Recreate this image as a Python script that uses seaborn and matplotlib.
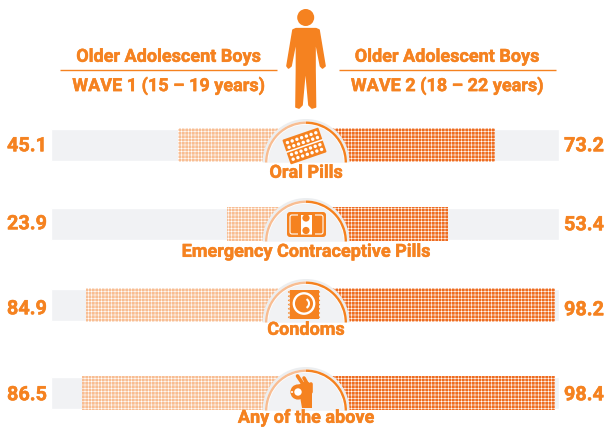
import numpy as np
import matplotlib
matplotlib.use("Agg")
import matplotlib.pyplot as plt
from matplotlib.patches import Circle, Wedge, Polygon, FancyBboxPatch, Rectangle, Arc
import matplotlib.patheffects as pe
import seaborn as sns

methods = ["Oral Pills", "Emergency Contraceptive Pills", "Condoms", "Any of the above"]
wave1 = [45.1, 23.9, 84.9, 86.5]
wave2 = [73.2, 53.4, 98.2, 98.4]
ORANGE = "#f58220"; LIGHT = "#f8bd92"; DARK = "#ee6c20"; GREY = "#f1f2f4"

sns.set_theme(style="white")
plt.rcParams["font.family"] = ["Roboto", "DejaVu Sans"]
plt.rcParams["hatch.linewidth"] = 0.4
W, H = 604, 430
fig = plt.figure(figsize=(W / 100, H / 100), dpi=100, facecolor="white")

rows = [(128, 162), (207, 241), (288, 322), (376, 410)]
label_y = [172, 251, 329, 417]
left_val_y = [145, 223, 308, 394]
right_val_y = [145, 224, 309, 394]
LEFT = (50.6, 282.6)
RIGHT = (320.0, 559.0)


def side_axes(span, top, bot):
    return fig.add_axes([span[0] / W, 1 - bot / H, (span[1] - span[0]) / W, (bot - top) / H])


def draw_bar(ax, name, val, color, invert):
    sns.barplot(x=[100], y=[name], color=GREY, width=0.94, saturation=1, ax=ax, zorder=1)
    sns.barplot(x=[val], y=[name], color=color, width=1.0, saturation=1, ax=ax, zorder=2)
    bar = ax.patches[-1]
    bar.set_hatch("+++++")
    bar.set_edgecolor("white")
    bar.set_linewidth(0)
    ax.set_xlim(100, 0) if invert else ax.set_xlim(0, 100)
    ax.axis("off")
    ax.patch.set_alpha(0)


for i, name in enumerate(methods):
    top, bot = rows[i]
    draw_bar(side_axes(LEFT, top, bot), name, wave1[i], LIGHT, True)
    draw_bar(side_axes(RIGHT, top, bot), name, wave2[i], DARK, False)

ov = fig.add_axes([0, 0, 1, 1], zorder=5)
ov.set_xlim(0, W); ov.set_ylim(H, 0); ov.axis("off"); ov.patch.set_alpha(0)


def T(x, y, s, size):
    ov.text(x, y + 0.8, s, fontsize=size, color=ORANGE, fontweight="bold", ha="center", va="center",
            path_effects=[pe.withStroke(linewidth=0.35, foreground=ORANGE)])


for cx, sub in [(168.5, "WAVE 1 (15 – 19 years)"), (447, "WAVE 2 (18 – 22 years)")]:
    T(cx, 56, "Older Adolescent Boys", 13)
    T(cx, 85, sub, 13)
    ov.plot([cx - 108.5, cx + 108.5], [69.5, 69.5], color=ORANGE, lw=1.0, solid_capstyle="butt")

# person
ov.add_patch(Circle((305.7, 17.5), 8.5, color=ORANGE, lw=0))
body = [(293, 30), (296, 28.7), (316, 28.7), (319, 30), (325, 66), (322.5, 68), (320.5, 66), (315, 38),
        (315, 70), (315.5, 107), (312, 108), (309, 105), (306, 72), (305, 72), (302, 105), (299, 108),
        (296, 107), (296.5, 70), (296.5, 38), (291, 66), (288.5, 68), (287, 66)]
ov.add_patch(Polygon(body, closed=True, facecolor=ORANGE, edgecolor=ORANGE, lw=1.2, joinstyle="round"))

for i in range(4):
    T(27, left_val_y[i], f"{wave1[i]:.1f}", 14.3)
    T(584, right_val_y[i], f"{wave2[i]:.1f}", 14.3)


def disc(cy):
    cx = 306; r = 41
    ov.add_patch(Wedge((cx, cy), r + 2.5, 180, 360, color="#eceef0", lw=0))
    ov.add_patch(Wedge((cx, cy), r, 180, 360, color="white", lw=0))
    ov.add_patch(Wedge((cx, cy), r, 270, 360, width=2.4, color=ORANGE, lw=0))
    ov.add_patch(Wedge((cx, cy), r, 180, 270, width=2.4, color=LIGHT, lw=0))
    ov.add_patch(Wedge((cx, cy), r - 3.2, 180, 360, color=GREY, lw=0))


def pills():
    c = np.array([304.5, 146.0]); a = np.deg2rad(-19)
    R = np.array([[np.cos(a), -np.sin(a)], [np.sin(a), np.cos(a)]])
    f = lambda u, v: tuple(c + R @ np.array([u, v]))
    ov.add_patch(Polygon([f(-18, -12), f(18, -12), f(18, 12), f(-18, 12)], closed=True,
                         facecolor=ORANGE, edgecolor=ORANGE, lw=1.5, joinstyle="round"))
    p, q = f(-19, 0), f(19, 0)
    ov.plot([p[0], q[0]], [p[1], q[1]], color="white", lw=1.1)
    for v in (-8.8, -3.8, 3.8, 8.8):
        for u in np.arange(-15, 15.1, 5):
            ov.add_patch(Circle(f(u, v), 1.7, color="white", lw=0))


def ec():
    ov.add_patch(FancyBboxPatch((288.5, 213.5), 36, 22, boxstyle="round,pad=1.5,rounding_size=3",
                                facecolor=ORANGE, edgecolor="none"))
    ov.add_patch(FancyBboxPatch((290, 215), 33, 19, boxstyle="round,pad=0,rounding_size=2",
                                facecolor="none", edgecolor="white", lw=0.8))
    ov.add_patch(Rectangle((297.5, 212), 3, 25, color=ORANGE, lw=0))
    ov.add_patch(Rectangle((311.5, 212), 3, 25, color=ORANGE, lw=0))
    ov.add_patch(Rectangle((300.5, 215), 11, 19, color="white", lw=0))
    ov.add_patch(Rectangle((300.5, 212), 11, 3, color=ORANGE, lw=0))
    ov.add_patch(Circle((306, 218), 3.6, color=ORANGE, lw=0))
    ov.add_patch(Circle((306, 230.5), 3.6, color=ORANGE, lw=0))


def condom():
    ov.add_patch(Rectangle((289.5, 290), 29, 28.5, color=ORANGE, lw=0))
    for y in np.arange(292, 318, 4.2):
        ov.add_patch(Polygon([(289.6, y - 1.6), (287.8, y), (289.6, y + 1.6)], color=ORANGE, lw=0))
        ov.add_patch(Polygon([(318.4, y - 1.6), (320.2, y), (318.4, y + 1.6)], color=ORANGE, lw=0))
    ov.add_patch(Circle((304, 303.5), 10.2, facecolor="none", edgecolor="white", lw=1.7))
    ov.add_patch(Arc((304, 303.5), 10, 10, theta1=-60, theta2=60, color="white", lw=1.5))


def hand():
    ov.add_patch(Polygon([(302, 408), (312, 408), (312, 384), (306, 381), (298, 385)], closed=True, color=ORANGE, lw=0))
    for (x0, y0), (x1, y1) in [((297.5, 376), (305, 387)), ((304, 378), (309, 387)), ((310.5, 384), (310.5, 392))]:
        ov.plot([x0, x1], [y0, y1], color=ORANGE, lw=2.6, solid_capstyle="round")
    ov.add_patch(Circle((298, 392), 7.6, color=ORANGE, lw=0))
    ov.add_patch(Circle((298, 392), 3.7, color="white", lw=0))
    ov.add_patch(Circle((292, 392), 1.0, color="white", lw=0))


for i, draw_icon in enumerate([pills, ec, condom, hand]):
    disc(rows[i][1] + 0.5)
    draw_icon()
    T(306, label_y[i], methods[i], 13)

fig.savefig("out.png", dpi=100)
